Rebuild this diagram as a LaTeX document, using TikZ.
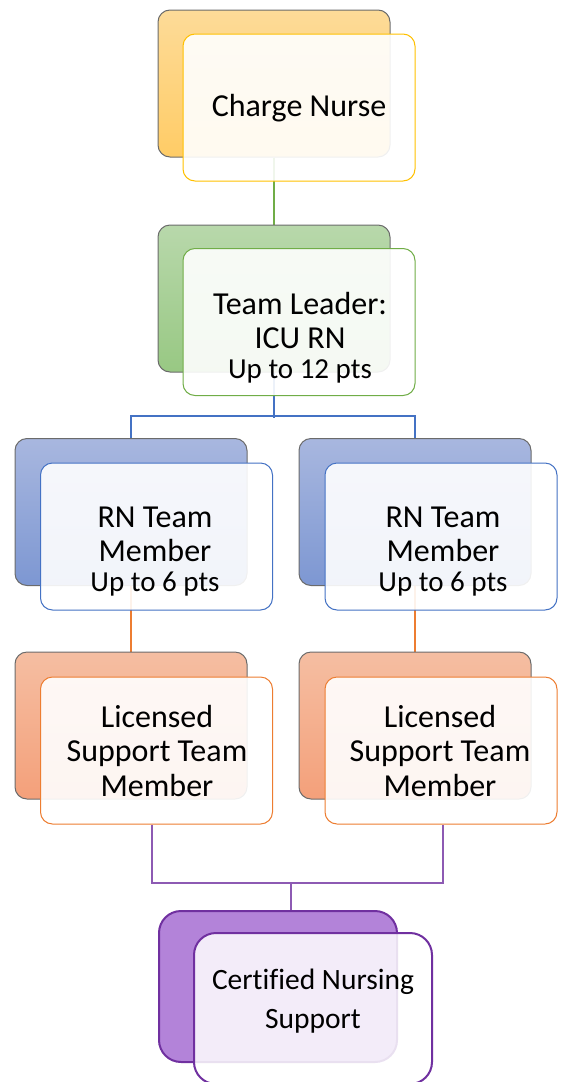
\documentclass[tikz,border=0pt]{standalone}
\usepackage{fontspec}
\setmainfont{Carlito}[Ligatures=NoCommon]
\pgfdeclarelayer{background}
\pgfsetlayers{background,main}
\definecolor{orB}{HTML}{FFC000}
\definecolor{grB}{HTML}{70AD47}
\definecolor{blB}{HTML}{4472C4}
\definecolor{rdB}{HTML}{ED7D31}
\definecolor{puB}{HTML}{7030A0}
\definecolor{edgeGray}{HTML}{6B6B6B}
\tikzset{
  backbox/.style={draw=edgeGray, line width=1pt, rounded corners=12pt,
    minimum width=232pt, minimum height=147pt, inner sep=0pt},
  frontbox/.style={line width=1pt, rounded corners=12pt, fill=white, fill opacity=0.9,
    minimum width=232pt, minimum height=147pt, inner sep=0pt},
  txt/.style={align=center, inner sep=0pt, text=black, font=\fontsize{32}{34.5}\selectfont},
  conn/.style={line width=1.8pt},
}
\begin{document}
\begin{tikzpicture}[x=1pt,y=-1pt]
\useasboundingbox (0,0) rectangle (561,1082);
% back boxes
\node[backbox, top color={rgb,255:red,253;green,219;blue,152}, bottom color={rgb,255:red,255;green,204;blue,102}] (cn-back) at (274,83.5) {};
\node[backbox, top color={rgb,255:red,184;green,216;blue,171}, bottom color={rgb,255:red,152;green,200;blue,131}] (tl-back) at (274,298.5) {};
\node[backbox, top color={rgb,255:red,168;green,183;blue,223}, bottom color={rgb,255:red,125;green,151;blue,210}] (rn1-back) at (131,512) {};
\node[backbox, top color={rgb,255:red,168;green,183;blue,223}, bottom color={rgb,255:red,125;green,151;blue,210}] (rn2-back) at (415,512) {};
\node[backbox, top color={rgb,255:red,245;green,190;blue,162}, bottom color={rgb,255:red,244;green,160;blue,122}] (lic1-back) at (131,725.5) {};
\node[backbox, top color={rgb,255:red,245;green,190;blue,162}, bottom color={rgb,255:red,244;green,160;blue,122}] (lic2-back) at (415,725.5) {};
\node[backbox, draw=puB, line width=2pt, rounded corners=22pt, fill={rgb,255:red,179;green,131;blue,217},
  minimum width=238pt, minimum height=151pt] (cns-back) at (278,986.5) {};
% front boxes
\node[frontbox, draw=orB] (cn-front) at (299,107.5) {};
\node[frontbox, draw=grB] (tl-front) at (299,322) {};
\node[frontbox, draw=blB] (rn1-front) at (156.5,536.5) {};
\node[frontbox, draw=blB] (rn2-front) at (441,536.5) {};
\node[frontbox, draw=rdB] (lic1-front) at (156.5,750.5) {};
\node[frontbox, draw=rdB] (lic2-front) at (441,750.5) {};
\node[frontbox, draw=puB, line width=2pt, rounded corners=22pt, fill opacity=0.85,
  minimum width=238pt, minimum height=151pt] (cns-front) at (313,1008.5) {};
% texts
\node[txt] (cn-text) at (299,108.5) {Charge Nurse};
\node[txt] (tl-text) at (300,337.5) {Team Leader:\\ICU RN\\[-4.5pt]{\fontsize{29}{30}\selectfont Up to 12 pts}};
\node[txt] (rn1-text) at (155,551.5) {RN Team\\Member\\[-4.5pt]{\fontsize{29}{30}\selectfont Up to 6 pts}};
\node[txt] (rn2-text) at (443,551.5) {RN Team\\Member\\[-4.5pt]{\fontsize{29}{30}\selectfont Up to 6 pts}};
\node[txt] (lic1-text) at (157,750.5) {Licensed\\Support Team\\Member};
\node[txt] (lic2-text) at (440,750.5) {Licensed\\Support Team\\Member};
\node[txt, font=\fontsize{29.5}{39}\selectfont] (cns-text) at (313,1001.5) {Certified Nursing\\Support};
% connectors
\coordinate (pl) at (152,883);
\coordinate (pr) at (443,883);
\coordinate (pm) at (291,883);
\begin{pgfonlayer}{background}
\draw[conn, grB] (cn-back.south) -- (tl-back.north);
\draw[conn, blB] (tl-back.south) -- ++(0,45);
\draw[conn, blB] (rn1-back.north) -- ++(0,-22) -| (rn2-back.north);
\draw[conn, rdB] (rn1-back.south) -- (lic1-back.north);
\draw[conn, rdB] (rn2-back.south) -- (lic2-back.north);
\end{pgfonlayer}
\draw[line width=1.2pt, puB!80] (lic1-front.south -| pl) -- (pl) -- (pr) -- (lic2-front.south -| pr);
\draw[line width=1.2pt, puB!80] (pm) -- (cns-back.north -| pm);
\end{tikzpicture}
\end{document}
